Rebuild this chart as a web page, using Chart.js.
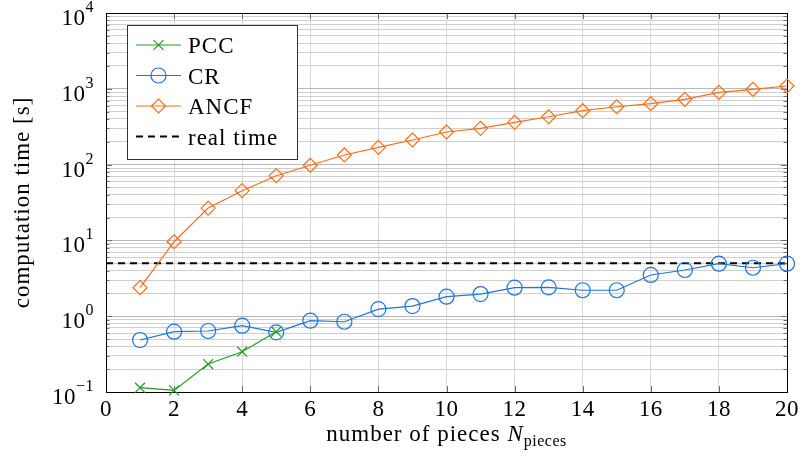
<!DOCTYPE html>
<html>
<head>
<meta charset="utf-8">
<script src="https://cdn.jsdelivr.net/npm/chart.js@4.4.1/dist/chart.umd.min.js"></script>
<style>
  html, body { margin: 0; padding: 0; background: #fff; }
  #wrap { width: 804px; height: 457px; }
</style>
</head>
<body>
<div id="wrap"><canvas id="myChart" width="804" height="457"></canvas></div>
<script>
// number of pieces
var pieces = [1, 2, 3, 4, 5, 6, 7, 8, 9, 10, 11, 12, 13, 14, 15, 16, 17, 18, 19, 20];

// computation time [s]
var timePCC = [0.114, 0.105, 0.234, 0.34, 0.625];
var timeCR = [0.485, 0.625, 0.638, 0.75, 0.612, 0.873, 0.845, 1.24, 1.36, 1.81,
              1.96, 2.38, 2.40, 2.20, 2.20, 3.50, 4.07, 4.93, 4.36, 4.93];
var timeANCF = [2.38, 9.6, 26.7, 45.3, 71.4, 98, 134, 169, 211, 269,
                301, 361, 428, 514, 580, 636, 727, 899, 985, 1089];
var realTime = 5;

var xRange = [0, 20];
var xTicks = [0, 2, 4, 6, 8, 10, 12, 14, 16, 18, 20];
var yDecades = [-1, 0, 1, 2, 3, 4];

var font = "'Liberation Serif', 'Times New Roman', serif";
var big = '23px ' + font;
var small = '16px ' + font;

function toPoints(xs, ys) {
    var out = [];
    for (var i = 0; i < ys.length; i++) {
        out.push({ x: xs[i], y: ys[i] });
    }
    return out;
}

// all log ticks 1..9 per decade, major ones on powers of ten
var yTickValues = [];
for (var d = yDecades[0]; d < yDecades[yDecades.length - 1]; d++) {
    for (var m = 1; m <= 9; m++) {
        yTickValues.push(parseFloat((m * Math.pow(10, d)).toPrecision(6)));
    }
}
yTickValues.push(Math.pow(10, yDecades[yDecades.length - 1]));

function isMajor(v) {
    var l = Math.log10(v);
    return Math.abs(l - Math.round(l)) < 1e-6;
}

function drawMarker(ctx, style, r, x, y) {
    ctx.beginPath();
    if (style === 'circle') {
        ctx.arc(x, y, r, 0, Math.PI * 2);
    } else if (style === 'rectRot') {
        ctx.moveTo(x, y - r); ctx.lineTo(x + r, y); ctx.lineTo(x, y + r); ctx.lineTo(x - r, y); ctx.closePath();
    } else {
        var o = r * Math.SQRT1_2;
        ctx.moveTo(x - o, y - o); ctx.lineTo(x + o, y + o);
        ctx.moveTo(x + o, y - o); ctx.lineTo(x - o, y + o);
    }
    ctx.stroke();
}

function setText(ctx, f, spacing) {
    ctx.font = f;
    ctx.letterSpacing = spacing || '0px';
}

var framePlugin = {
    id: 'frame',
    beforeDatasetsDraw: function (chart) {
        var ctx = chart.ctx;
        var a = chart.chartArea;
        var xs = chart.scales.x;
        var ys = chart.scales.y;
        ctx.save();
        // inner tick marks on all four sides
        ctx.strokeStyle = '#6e6e6e';
        ctx.lineWidth = 1;
        ctx.beginPath();
        yTickValues.forEach(function (v) {
            var py = Math.round(ys.getPixelForValue(v)) + 0.5;
            var len = isMajor(v) ? 6 : 3.5;
            ctx.moveTo(a.left, py); ctx.lineTo(a.left + len, py);
            ctx.moveTo(a.right, py); ctx.lineTo(a.right - len, py);
        });
        xTicks.forEach(function (v) {
            var px = Math.round(xs.getPixelForValue(v)) + 0.5;
            ctx.moveTo(px, a.bottom); ctx.lineTo(px, a.bottom - 6);
            ctx.moveTo(px, a.top); ctx.lineTo(px, a.top + 6);
        });
        ctx.stroke();
        // axis box
        ctx.strokeStyle = '#000';
        ctx.strokeRect(a.left + 0.5, a.top + 0.5, a.right - a.left, a.bottom - a.top);
        ctx.restore();
    },
    afterDraw: function (chart) {
        var ctx = chart.ctx;
        var a = chart.chartArea;
        var xs = chart.scales.x;
        var ys = chart.scales.y;
        ctx.save();
        ctx.fillStyle = '#000';
        ctx.textBaseline = 'alphabetic';

        // x tick labels
        setText(ctx, big, '0.5px');
        ctx.textAlign = 'center';
        xTicks.forEach(function (v) {
            ctx.fillText(String(v), xs.getPixelForValue(v), a.bottom + 24);
        });

        // y tick labels as 10^k
        ctx.textAlign = 'left';
        yDecades.forEach(function (k) {
            var py = ys.getPixelForValue(Math.pow(10, k));
            var exp = k < 0 ? '\u2212' + Math.abs(k) : String(k);
            setText(ctx, small, '0.5px');
            var we = ctx.measureText(exp).width;
            setText(ctx, big, '0.5px');
            var wb = ctx.measureText('10').width;
            var right = a.left - 12;
            ctx.fillText('10', right - we - wb, py + 12);
            setText(ctx, small, '0.5px');
            ctx.fillText(exp, right - we, py - 1);
        });

        // y axis title
        ctx.save();
        ctx.translate(29, (a.top + a.bottom) / 2);
        ctx.rotate(-Math.PI / 2);
        setText(ctx, big, '1px');
        ctx.textAlign = 'center';
        ctx.fillText('computation time [s]', 0, 0);
        ctx.restore();

        // x axis title with N_pieces
        var t1 = 'number of pieces ';
        setText(ctx, big, '1px');
        var w1 = ctx.measureText(t1).width;
        setText(ctx, 'italic ' + big, '0px');
        var w2 = ctx.measureText('N').width;
        setText(ctx, small, '0.5px');
        var w3 = ctx.measureText('pieces').width;
        var start = (a.left + a.right) / 2 - (w1 + w2 + w3 + 1) / 2;
        var base = a.bottom + 49;
        ctx.textAlign = 'left';
        setText(ctx, big, '1px');
        ctx.fillText(t1, start, base);
        setText(ctx, 'italic ' + big, '0px');
        ctx.fillText('N', start + w1, base);
        setText(ctx, small, '0.5px');
        ctx.fillText('pieces', start + w1 + w2 + 1, base + 5);

        // legend box
        var lx = a.left + 21, ly = a.top + 12, lw = 170, lh = 134;
        ctx.fillStyle = '#fff';
        ctx.fillRect(lx, ly, lw, lh);
        ctx.strokeStyle = '#333';
        ctx.lineWidth = 1;
        ctx.strokeRect(lx + 0.5, ly + 0.5, lw, lh);
        chart.data.datasets.forEach(function (ds, i) {
            var cy = ly + 20 + i * 30.5;
            var x0 = lx + 9, x1 = lx + 54;
            ctx.save();
            ctx.strokeStyle = ds.borderColor;
            ctx.lineWidth = ds.borderWidth;
            ctx.setLineDash(ds.borderDash || []);
            ctx.beginPath();
            ctx.moveTo(x0, cy); ctx.lineTo(x1, cy);
            ctx.stroke();
            ctx.setLineDash([]);
            if (ds.pointRadius > 0) {
                ctx.lineWidth = ds.pointBorderWidth;
                drawMarker(ctx, ds.pointStyle, ds.pointRadius, (x0 + x1) / 2, cy);
            }
            ctx.restore();
            ctx.fillStyle = '#000';
            setText(ctx, big, '1px');
            ctx.textAlign = 'left';
            ctx.fillText(ds.label, lx + 61, cy + 8);
        });
        ctx.restore();
    }
};

var ctx = document.getElementById('myChart');
var chart = new Chart(ctx, {
    type: 'line',
    data: {
        datasets: [{
            label: 'PCC',
            data: toPoints(pieces, timePCC),
            borderColor: '#239b23',
            borderWidth: 1.2,
            pointStyle: 'crossRot',
            pointRadius: 7,
            pointBorderWidth: 1.2,
            pointBackgroundColor: 'transparent',
            clip: false
        }, {
            label: 'CR',
            data: toPoints(pieces, timeCR),
            borderColor: '#1f74e0',
            borderWidth: 1.2,
            pointStyle: 'circle',
            pointRadius: 7.5,
            pointBorderWidth: 1.2,
            pointBackgroundColor: 'transparent',
            clip: false
        }, {
            label: 'ANCF',
            data: toPoints(pieces, timeANCF),
            borderColor: '#ff6f17',
            borderWidth: 1.2,
            pointStyle: 'rectRot',
            pointRadius: 7,
            pointBorderWidth: 1.2,
            pointBackgroundColor: 'transparent',
            clip: false
        }, {
            label: 'real time',
            data: toPoints(xRange, [realTime, realTime]),
            borderColor: '#000',
            borderWidth: 2,
            borderDash: [7, 5],
            pointRadius: 0,
            pointBorderWidth: 0
        }]
    },
    options: {
        responsive: false,
        animation: false,
        layout: { padding: { left: 106, top: 13, right: 17, bottom: 65 } },
        plugins: {
            legend: { display: false },
            tooltip: { enabled: false }
        },
        scales: {
            x: {
                type: 'linear',
                min: xRange[0],
                max: xRange[1],
                ticks: { display: false, stepSize: 2 },
                grid: { color: '#d8d8d8', drawTicks: false },
                border: { display: false }
            },
            y: {
                type: 'logarithmic',
                min: Math.pow(10, yDecades[0]),
                max: Math.pow(10, yDecades[yDecades.length - 1]),
                afterBuildTicks: function (scale) {
                    scale.ticks = yTickValues.map(function (v) { return { value: v }; });
                },
                ticks: { display: false },
                grid: {
                    drawTicks: false,
                    color: function (c) {
                        return c.tick && isMajor(c.tick.value) ? '#b8b8b8' : '#cfcfcf';
                    }
                },
                border: { display: false }
            }
        }
    },
    plugins: [framePlugin]
});
</script>
</body>
</html>
